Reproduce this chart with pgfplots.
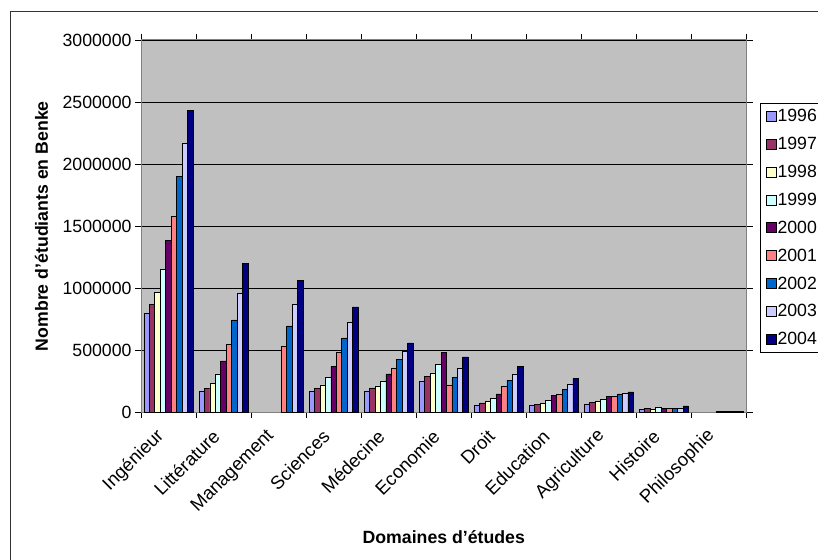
\documentclass[border=0pt]{standalone}
\usepackage{pgfplots}
\usepackage{pgfplotstable}
\usepackage{fontspec}
\setmainfont{Liberation Sans}
\pgfplotsset{compat=1.18}

\definecolor{cA}{RGB}{153,153,255}
\definecolor{cB}{RGB}{153,51,102}
\definecolor{cC}{RGB}{255,255,204}
\definecolor{cD}{RGB}{204,255,255}
\definecolor{cE}{RGB}{102,0,102}
\definecolor{cF}{RGB}{255,128,128}
\definecolor{cG}{RGB}{0,102,204}
\definecolor{cH}{RGB}{204,204,255}
\definecolor{cI}{RGB}{0,0,128}
\definecolor{plotgray}{RGB}{192,192,192}

% one row per field of study, one column per year
\pgfplotstableread{
x  y1996   y1997   y1998   y1999   y2000   y2001   y2002   y2003   y2004
0  798000  866000  965000  1148000 1382000 1576000 1897000 2169000 2432000
1  172000  194000  231000  309000  414000  548000  744000  957000  1202000
2  nan     nan     nan     nan     nan     529000  696000  871000  1065000
3  172000  194000  220000  279000  368000  484000  599000  726000  849000
4  172000  196000  212000  250000  309000  357000  424000  492000  559000
5  250000  290000  317000  387000  484000  220000  279000  357000  446000
6  56000   75000   86000   115000  148000  212000  260000  309000  368000
7  56000   65000   73000   95000   134000  145000  182000  226000  271000
8  67000   77000   89000   107000  126000  126000  148000  156000  164000
9  25000   29000   27000   37000   34000   34000   34000   34000   51000
10 nan     nan     nan     nan     6000    6000    6000    6000    6000
}\etudiants

\newcommand{\fs}{\fontsize{17.7bp}{21bp}\selectfont}
\newcommand{\fx}{\fontsize{18.5bp}{22bp}\selectfont}

\begin{document}
\begin{tikzpicture}
\useasboundingbox (0,0) rectangle (818bp,560bp);
\clip (0,0) rectangle (818bp,560bp);
\fill[white] (0,0) rectangle (818bp,560bp);
\draw[line width=1bp, black!80] (10bp,548bp) rectangle (840bp,-20bp);

\begin{axis}[
  at={(141bp,147.7bp)}, anchor=south west,
  scale only axis,
  width=605.5bp, height=372.3bp,
  axis background/.style={fill=plotgray},
  axis line style={draw=gray, line width=1bp},
  ybar=0pt,
  bar width=0.099,
  xmin=-0.5, xmax=10.5,
  ymin=0, ymax=3000000,
  ytick={0,500000,...,3000000},
  scaled y ticks=false,
  yticklabel style={/pgf/number format/fixed, /pgf/number format/1000 sep={}},
  /pgf/number format/assume math mode=true,
  ymajorgrids,
  major grid style={black, line width=0.9bp},
  tick align=outside,
  major tick length=6bp,
  tick style={black, line width=0.9bp},
  xtick={-0.5,0.5,...,10.5},
  xticklabels={},
  extra x ticks={0,1,...,10},
  extra x tick labels={Ingénieur,Littérature,Management,Sciences,Médecine,Economie,Droit,Education,Agriculture,Histoire,Philosophie},
  extra x tick style={major tick length=0pt, tick style={draw=none}, grid=none,
    xticklabel style={font=\fx, xshift=-5bp, yshift=-18.5bp, rotate=45, anchor=east}},
  tick label style={font=\fs},
  xlabel={\bfseries Domaines d'études},
  ylabel={\bfseries Nombre d'étudiants en Benke},
  label style={font=\fs},
  xlabel style={at={(axis description cs:0.5,-0.335)}, anchor=center},
  ylabel style={at={(axis description cs:-0.1645,0.50)}, anchor=center},
  legend style={at={(axis description cs:1.0228,0.8305)}, anchor=north west,
    font=\fs, draw=black, fill=white, line width=0.9bp,
    inner xsep=5bp, inner ysep=5bp, row sep=12bp,
    nodes={inner sep=1bp},
    /tikz/every even column/.append style={column sep=8bp}},
  legend cell align=left,
  legend image code/.code={\draw[#1, draw=black, line width=0.8bp] (0bp,-5bp) rectangle (10bp,5bp);},
  every axis plot/.append style={draw=black, line width=0.8bp},
]
\addplot[fill=cA] table[x=x, y=y1996] {\etudiants};
\addplot[fill=cB] table[x=x, y=y1997] {\etudiants};
\addplot[fill=cC] table[x=x, y=y1998] {\etudiants};
\addplot[fill=cD] table[x=x, y=y1999] {\etudiants};
\addplot[fill=cE] table[x=x, y=y2000] {\etudiants};
\addplot[fill=cF] table[x=x, y=y2001] {\etudiants};
\addplot[fill=cG] table[x=x, y=y2002] {\etudiants};
\addplot[fill=cH] table[x=x, y=y2003] {\etudiants};
\addplot[fill=cI] table[x=x, y=y2004] {\etudiants};
\legend{1996,1997,1998,1999,2000,2001,2002,2003,2004}
\end{axis}
\end{tikzpicture}
\end{document}
